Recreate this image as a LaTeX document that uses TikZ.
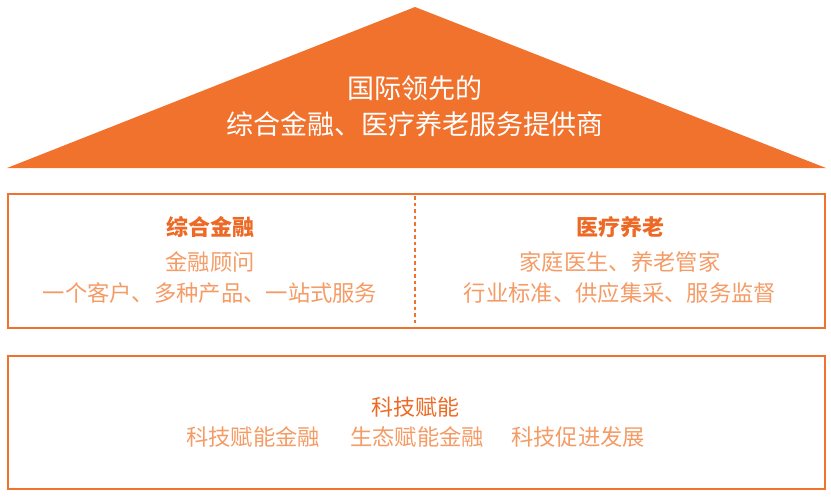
\documentclass[tikz,border=0pt]{standalone}
\usepackage{fontspec}
\usepackage{tikz}
\usetikzlibrary{positioning}
\newfontfamily\cjk{Noto Sans CJK SC}
\definecolor{orng}{HTML}{F0722D}
\definecolor{orngd}{HTML}{EC6A26}
\definecolor{orngl}{HTML}{F49B66}
\tikzset{
  rahmen/.style={draw=orng,line width=2.8pt},
  trenn/.style={orng,line width=1.4pt,dash pattern=on 3.5pt off 3pt},
  dach/.style={font=\cjk\fontsize{27}{36}\selectfont,white,align=center},
  titel/.style={font=\cjk\bfseries\fontsize{22}{24}\selectfont,orngd},
  zeile/.style={font=\cjk\fontsize{22.3}{24}\selectfont,orngl},
}
\begin{document}
\begin{tikzpicture}[x=1pt,y=-1pt]
  \useasboundingbox (0,0) rectangle (831,498);
  % dach
  \fill[orng] (415,7)--(826,168)--(7,168)--cycle;
  \node[dach] (vision) at (415,106) {国际领先的\\综合金融、医疗养老服务提供商};
  % obere saeulen
  \draw[rahmen] (8,194) rectangle (825,328);
  \draw[trenn] (415,196)--(415,326);
  \node[titel] (fin) at (210,227) {综合金融};
  \node[zeile] (fin1) at (210,262) {金融顾问};
  \node[zeile] (fin2) at (210,293) {一个客户、多种产品、一站式服务};
  \node[titel] (med) at (620,227) {医疗养老};
  \node[zeile] (med1) at (620,262) {家庭医生、养老管家};
  \node[zeile] (med2) at (620,293) {行业标准、供应集采、服务监督};
  % fundament
  \draw[rahmen] (8,356) rectangle (825,489);
  \node[titel,font=\cjk\fontsize{22}{24}\selectfont] (tech) at (415,407) {科技赋能};
  \node[zeile] (tech1) at (253,437) {科技赋能金融};
  \node[zeile] (tech2) at (417,437) {生态赋能金融};
  \node[zeile] (tech3) at (578,437) {科技促进发展};
\end{tikzpicture}
\end{document}
